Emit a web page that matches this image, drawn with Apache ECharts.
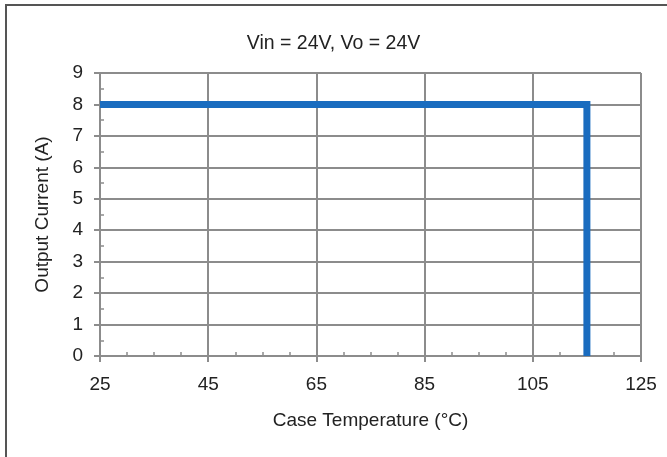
<!DOCTYPE html>
<html>
<head>
<meta charset="utf-8">
<script src="https://cdn.jsdelivr.net/npm/echarts@6/dist/echarts.min.js"></script>
<style>
html,body{margin:0;padding:0;background:#fff;}
#c{width:667px;height:457px;}
</style>
</head>
<body>
<div id="c"></div>
<script>
const titleText = "Vin = 24V, Vo = 24V";
const xName = "Case Temperature (°C)";
const yName = "Output Current (A)";
const temperature = [25, 115, 115];
const current = [8, 8, 0];

const font = "'Liberation Sans', Arial, sans-serif";
const gridColor = "#8c8c8c";
const chart = echarts.init(document.getElementById('c'));
const pts = temperature.map((t, i) => [t, current[i]]);

chart.setOption({
  animation: false,
  backgroundColor: '#fff',
  title: {
    text: titleText, left: 'center', top: 29,
    textStyle: { fontFamily: font, fontSize: 19.5, fontWeight: 'normal', color: '#222' }
  },
  grid: { left: 100, right: 26, top: 73, height: 283, containLabel: false },
  xAxis: [{
    type: 'value', min: 25, max: 125, interval: 20,
    name: xName, nameLocation: 'middle', nameGap: 55,
    nameTextStyle: { fontFamily: font, fontSize: 19, color: '#222' },
    axisLine: { lineStyle: { color: gridColor, width: 2 } },
    axisTick: { show: true, inside: false, length: 6, lineStyle: { color: gridColor, width: 2 } },
    axisLabel: { fontFamily: font, fontSize: 19, color: '#222', margin: 19 },
    splitLine: { show: true, lineStyle: { color: gridColor, width: 2 } }
  }, {
    type: 'value', min: 25, max: 125, interval: 5, position: 'bottom',
    axisLine: { show: false },
    axisTick: { show: true, inside: true, length: 4, lineStyle: { color: gridColor, width: 1.5 } },
    axisLabel: { show: false },
    splitLine: { show: false }
  }],
  yAxis: [{
    type: 'value', min: 0, max: 9, interval: 1,
    name: yName, nameLocation: 'middle', nameGap: 48, nameRotate: 90,
    nameTextStyle: { fontFamily: font, fontSize: 19, color: '#222' },
    axisLine: { show: true, lineStyle: { color: gridColor, width: 2 } },
    axisTick: { show: true, inside: false, length: 6, lineStyle: { color: gridColor, width: 2 } },
    axisLabel: { fontFamily: font, fontSize: 19, color: '#222', margin: 17 },
    splitLine: { show: true, lineStyle: { color: gridColor, width: 2 } }
  }, {
    type: 'value', min: 0, max: 9, interval: 0.5, position: 'left',
    axisLine: { show: false },
    axisTick: { show: true, inside: true, length: 4, lineStyle: { color: gridColor, width: 1.5 } },
    axisLabel: { show: false },
    splitLine: { show: false }
  }],
  graphic: [{
    type: 'polyline', silent: true,
    shape: { points: [[6, 457], [6, 5], [667, 5]] },
    style: { stroke: '#555', lineWidth: 2, fill: null }
  }],
  series: [{
    type: 'line', data: pts, xAxisIndex: 0, yAxisIndex: 0,
    symbol: 'none',
    lineStyle: { color: '#1a6cbf', width: 7, join: 'miter', cap: 'butt' },
    z: 5
  }]
});
</script>
</body>
</html>
